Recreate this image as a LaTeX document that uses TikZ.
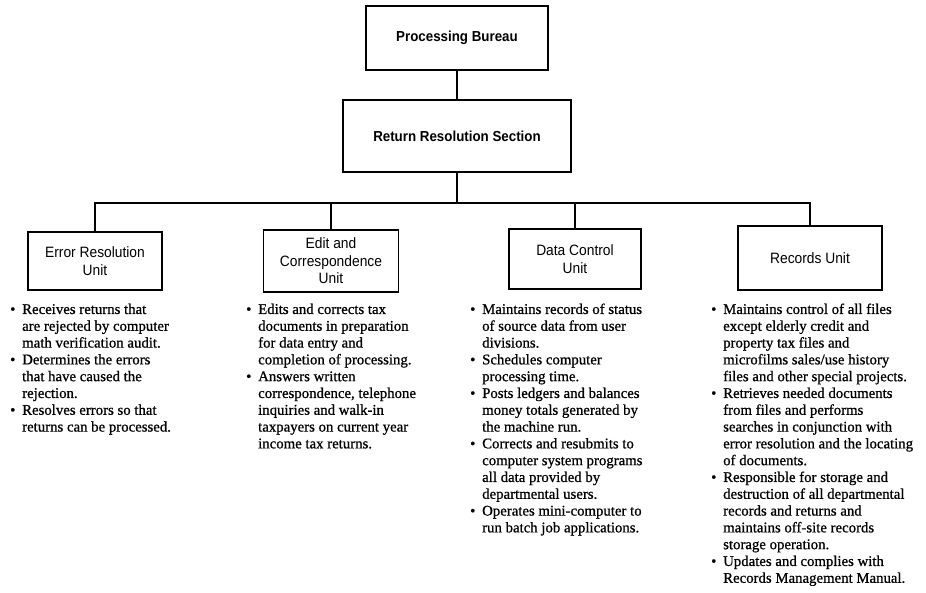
\documentclass[tikz,border=0pt]{standalone}
\usepackage{fontspec}
\setmainfont{Liberation Serif}[FakeBold=0.8]
\newfontfamily\boxfont{Liberation Sans}[FakeStretch=0.92]
\usepackage{array}

% one bullet line and one continuation line of a duty list
\newcommand\bl[1]{\textbullet & #1\\}
\newcommand\cl[1]{& #1\\}
\newenvironment{duties}{\fontsize{14.8}{16.8}\selectfont\renewcommand\arraystretch{1}%
  \begin{tabular}{@{}p{12pt}@{}l@{}}}{\end{tabular}}

\tikzset{
  line/.style={line width=1.8pt},
  topbox/.style={draw, line width=1.8pt, align=center, inner sep=0pt,
    font=\boxfont\bfseries\fontsize{14.5}{17}\selectfont},
  unitbox/.style={draw, line width=1.8pt, align=center, inner sep=0pt,
    font=\boxfont\fontsize{15}{17.5}\selectfont},
  duty/.style={anchor=north west, inner sep=0pt}
}

\begin{document}
\begin{tikzpicture}[x=1pt,y=-1pt]
\useasboundingbox[fill=white] (0,0) rectangle (926,592);

% management boxes
\node[topbox, minimum width=182pt, minimum height=64pt] (pb) at (457,38) {Processing Bureau};
\node[topbox, minimum width=228pt, minimum height=72pt] (rrs) at (457,136) {Return Resolution Section};
\coordinate (bus) at (457,203);

% unit boxes
\node[unitbox, minimum width=134pt, minimum height=58pt] (err) at (95,261) {Error Resolution\\Unit};
\node[unitbox, minimum width=135pt, minimum height=62pt] (edit) at (331,261) {Edit and\\Correspondence\\Unit};
\node[unitbox, minimum width=132pt, minimum height=60pt] (data) at (575,259) {Data Control\\Unit};
\node[unitbox, minimum width=144pt, minimum height=64pt] (rec) at (810,258) {Records Unit};

% connectors
\draw[line] (pb) -- (rrs);
\draw[line] (rrs) -- (bus);
\draw[line] (err.north) -- (err.north |- bus) -- (rec.north |- bus) -- (rec.north);
\draw[line] (edit.north) -- (edit.north |- bus);
\draw[line] (data.north) -- (data.north |- bus);

% duty lists
\node[duty] (errd) at (10,302) {\begin{duties}
\bl{Receives returns that}
\cl{are rejected by computer}
\cl{math verification audit.}
\bl{Determines the errors}
\cl{that have caused the}
\cl{rejection.}
\bl{Resolves errors so that}
\cl{returns can be processed.}
\end{duties}};

\node[duty] (editd) at (246,302) {\begin{duties}
\bl{Edits and corrects tax}
\cl{documents in preparation}
\cl{for data entry and}
\cl{completion of processing.}
\bl{Answers written}
\cl{correspondence, telephone}
\cl{inquiries and walk-in}
\cl{taxpayers on current year}
\cl{income tax returns.}
\end{duties}};

\node[duty] (datad) at (470,302) {\begin{duties}
\bl{Maintains records of status}
\cl{of source data from user}
\cl{divisions.}
\bl{Schedules computer}
\cl{processing time.}
\bl{Posts ledgers and balances}
\cl{money totals generated by}
\cl{the machine run.}
\bl{Corrects and resubmits to}
\cl{computer system programs}
\cl{all data provided by}
\cl{departmental users.}
\bl{Operates mini-computer to}
\cl{run batch job applications.}
\end{duties}};

\node[duty] (recd) at (711,302) {\begin{duties}
\bl{Maintains control of all files}
\cl{except elderly credit and}
\cl{property tax files and}
\cl{microfilms sales/use history}
\cl{files and other special projects.}
\bl{Retrieves needed documents}
\cl{from files and performs}
\cl{searches in conjunction with}
\cl{error resolution and the locating}
\cl{of documents.}
\bl{Responsible for storage and}
\cl{destruction of all departmental}
\cl{records and returns and}
\cl{maintains off-site records}
\cl{storage operation.}
\bl{Updates and complies with}
\cl{Records Management Manual.}
\end{duties}};
\end{tikzpicture}
\end{document}
